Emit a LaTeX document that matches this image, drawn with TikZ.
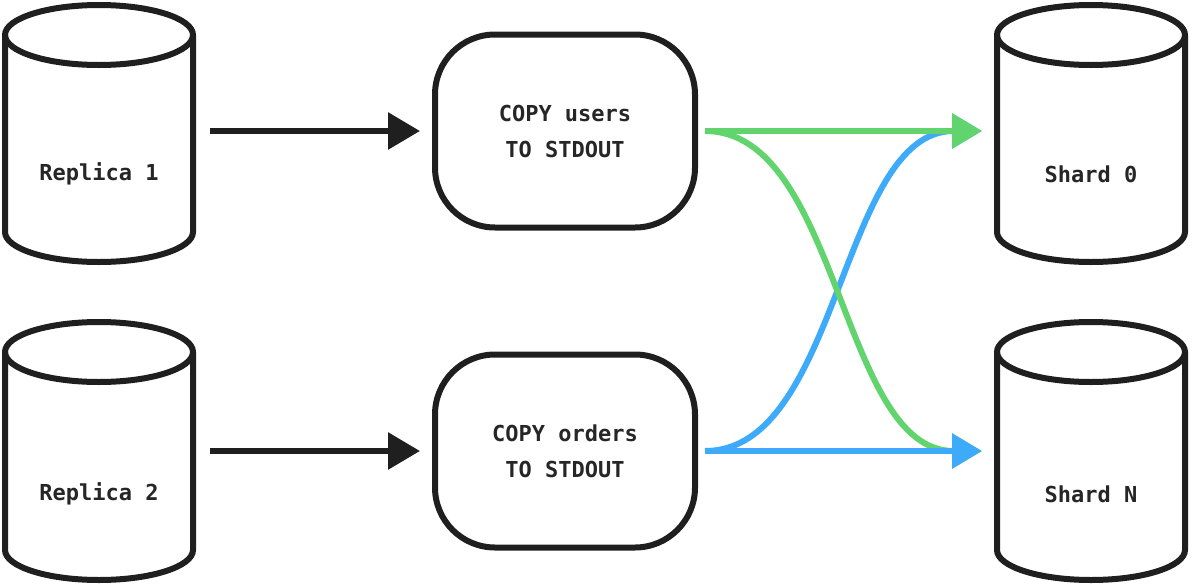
\documentclass[tikz,border=0pt]{standalone}
\usepackage{fontspec}
\setmonofont{DejaVu Sans Mono}
\usetikzlibrary{arrows.meta}
\begin{document}
\begin{tikzpicture}[x=1pt,y=-1pt,
  ln/.style={line width=6pt,draw=black!88},
  txt/.style={font=\ttfamily\bfseries\fontsize{22}{26}\selectfont,text=black!85,align=center},
  box/.style={ln,rounded corners=60pt,minimum width=260pt,minimum height=193pt,font=\ttfamily\bfseries\fontsize{22}{36}\selectfont,text=black!85,align=center},
  arr/.style={line width=6pt,draw=black!88,shorten >=12pt,-{Triangle[length=32pt,width=36pt]}},
  gre/.style={line width=6pt,draw={rgb,255:red,98;green,212;blue,110},-{Triangle[length=30pt,width=34pt]}},
  blu/.style={line width=6pt,draw={rgb,255:red,62;green,170;blue,250},-{Triangle[length=30pt,width=34pt]}}]
\useasboundingbox (0,0) rectangle (1192,584);
\newcommand\cyl[3]{%
  \draw[ln,fill=white] (#1-94,#2+30) -- (#1-94,#3-30) arc[start angle=180,end angle=0,x radius=94,y radius=30] -- (#1+94,#2+30) arc[start angle=0,end angle=-180,x radius=94,y radius=30] -- cycle;
  \draw[ln] (#1-94,#2+30) arc[start angle=180,end angle=0,x radius=94,y radius=30];
}
\cyl{99}{5}{262}
\cyl{99}{322}{580}
\cyl{1091}{5}{262}
\cyl{1091}{322}{580}
\node[txt] (r1) at (99,174) {Replica 1};
\node[txt] (r2) at (99,494) {Replica 2};
\node[txt] (s0) at (1091,174) {Shard 0};
\node[txt] (sn) at (1091,494) {Shard N};
\node[box] (b1) at (565,131) {COPY users\\TO STDOUT};
\node[box] (b2) at (565,451) {COPY orders\\TO STDOUT};
\coordinate (a1) at (210,131); \coordinate (a2) at (210,451);
\coordinate (g1) at (705,131); \coordinate (g2) at (705,451);
\coordinate (t0) at (982,131); \coordinate (tn) at (982,451);
\draw[arr] (a1) -- (b1.west);
\draw[arr] (a2) -- (b2.west);
\draw[blu] (g2) .. controls (840,451) and (840,131) .. (t0);
\draw[gre] (g1) -- (t0);
\draw[gre] (g1) .. controls (840,131) and (840,451) .. (tn);
\draw[blu] (g2) -- (tn);
\end{tikzpicture}
\end{document}
